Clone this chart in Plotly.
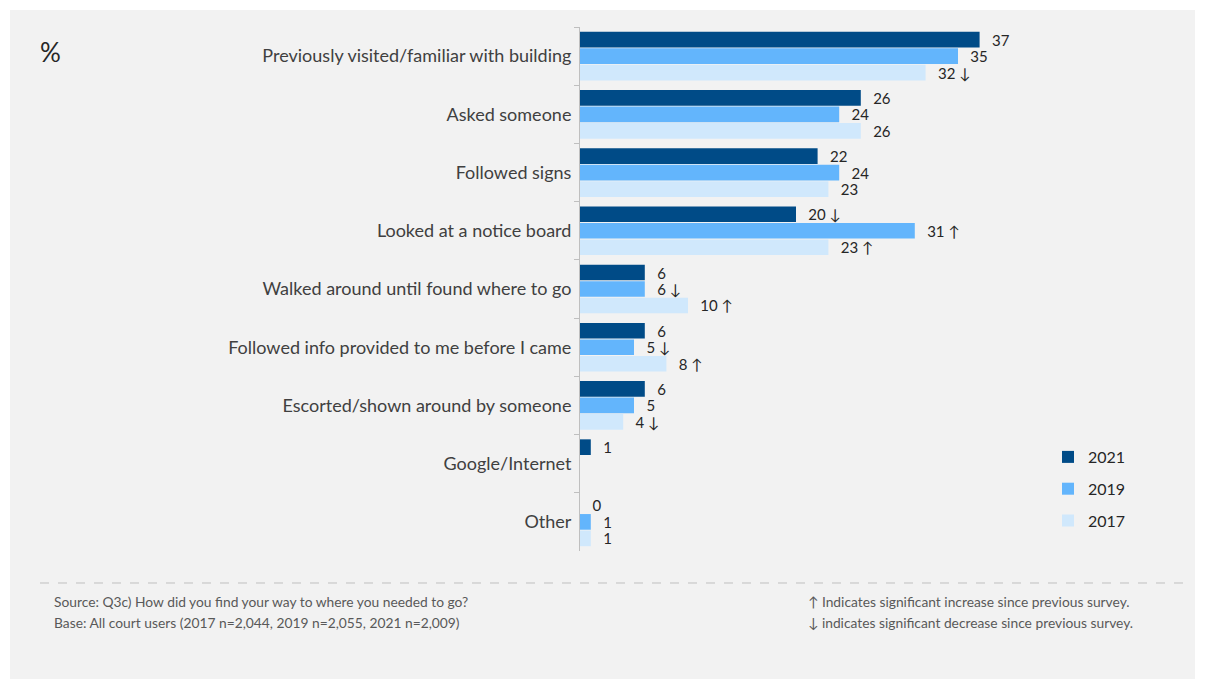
import plotly.graph_objects as go

categories = [
    "Previously visited/familiar with building",
    "Asked someone",
    "Followed signs",
    "Looked at a notice board",
    "Walked around until found where to go",
    "Followed info provided to me before I came",
    "Escorted/shown around by someone",
    "Google/Internet",
    "Other",
]
v2021 = [37, 26, 22, 20, 6, 6, 6, 1, 0]
v2019 = [35, 24, 24, 31, 6, 5, 5, None, 1]
v2017 = [32, 26, 23, 23, 10, 8, 4, None, 1]
sig2021 = ["", "", "", "↓", "", "", "", "", ""]
sig2019 = ["", "", "", "↑", "↓", "↓", "", "", ""]
sig2017 = ["↓", "", "", "↑", "↑", "↑", "↓", "", ""]
years = ["2021", "2019", "2017"]
colors = ["#004b87", "#63b5fc", "#d0e8fc"]

OFF = 8  # page body margin
W, H = 1206 - OFF, 679 - OFF
L, R, T, B = 580 - OFF, 140, 27 - OFF, 136 - OFF
PW, PH = W - L - R, H - T - B

def px(x):
    return (x - OFF - L) / PW

def py(y):
    return (H - B - (y - OFF)) / PH

FONT = "Lato"

fig = go.Figure()
for name, vals, sig, col in zip(years, [v2021, v2019, v2017], [sig2021, sig2019, sig2017], colors):
    texts = []
    for v, s in zip(vals, sig):
        if v is None:
            texts.append("")
        else:
            texts.append("\u2002\u2009" + str(v) + ((" " + s) if s else ""))
    fig.add_trace(go.Bar(
        y=categories, x=vals, name=name, orientation="h",
        marker=dict(color=col, line=dict(width=0)),
        text=texts, textposition="outside", cliponaxis=False, constraintext="none",
        textfont=dict(family=FONT, size=15, color="#262626"),
        legendgroup=name,
    ))

fig.update_layout(
    width=W, height=H,
    margin=dict(l=L, r=R, t=T, b=B),
    paper_bgcolor="white",
    plot_bgcolor="rgba(0,0,0,0)",
    barmode="group", bargap=0.15, bargroupgap=0.05,
    font=dict(family=FONT, color="#404040"),
    showlegend=True,
    legend=dict(x=px(1048), y=py(440), xanchor="left", yanchor="top",
                font=dict(family=FONT, size=16, color="#262626"),
                bgcolor="rgba(0,0,0,0)", tracegroupgap=8, itemwidth=30),
    xaxis=dict(range=[0, 45], showticklabels=False, showgrid=False, zeroline=False,
               showline=False, ticks=""),
    yaxis=dict(autorange="reversed", showline=True, linecolor="#bfbfbf", linewidth=1,
               ticks="outside", tickson="boundaries", ticklen=5, tickcolor="#bfbfbf",
               ticklabelstandoff=4,
               showgrid=False, tickfont=dict(family=FONT, size=18, color="#404040")),
    shapes=[
        dict(type="rect", xref="paper", yref="paper", x0=px(10), x1=px(1195), y0=py(679), y1=py(10),
             fillcolor="#f2f2f2", line=dict(width=0), layer="below"),
        dict(type="line", xref="paper", yref="paper", x0=px(40), x1=px(1183), y0=py(583), y1=py(583),
             line=dict(color="#bfbfbf", width=1, dash="dash")),
    ],
    annotations=[
        dict(text="%", xref="paper", yref="paper", x=px(38), y=py(52), xanchor="left", yanchor="middle",
             showarrow=False, font=dict(family=FONT, size=26, color="#262626")),
        dict(text="Source: Q3c) How did you find your way to where you needed to go?", xref="paper", yref="paper",
             x=px(52), y=py(601), xanchor="left", yanchor="middle", showarrow=False,
             font=dict(family=FONT, size=13.8, color="#595959")),
        dict(text="Base: All court users (2017 n=2,044, 2019 n=2,055, 2021 n=2,009)", xref="paper", yref="paper",
             x=px(52), y=py(622), xanchor="left", yanchor="middle", showarrow=False,
             font=dict(family=FONT, size=13.8, color="#595959")),
        dict(text="↑ Indicates significant increase since previous survey.", xref="paper", yref="paper",
             x=px(806), y=py(601), xanchor="left", yanchor="middle", showarrow=False,
             font=dict(family=FONT, size=13.8, color="#595959")),
        dict(text="↓ indicates significant decrease since previous survey.", xref="paper", yref="paper",
             x=px(806), y=py(622), xanchor="left", yanchor="middle", showarrow=False,
             font=dict(family=FONT, size=13.8, color="#595959")),
    ],
)

fig.write_html("out.html")
